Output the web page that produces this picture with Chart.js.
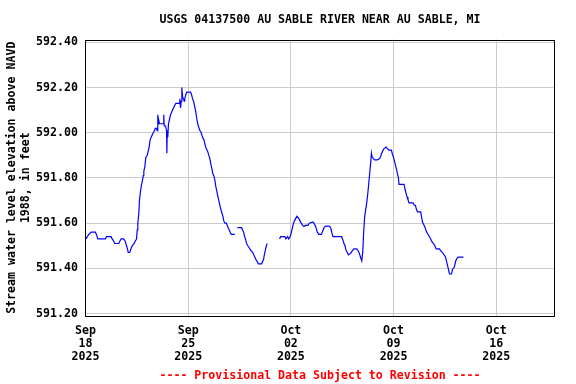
<!DOCTYPE html>
<html>
<head>
<meta charset="utf-8">
<script src="https://cdn.jsdelivr.net/npm/chart.js@4/dist/chart.umd.min.js"></script>
<style>
html,body{margin:0;padding:0;background:#fff;}
#wrap{width:576px;height:384px;position:relative;}
</style>
</head>
<body>
<div id="wrap"><canvas id="c"></canvas></div>
<script>
// Days since 2025-09-18 00:00
const dayOffsets = [
0.05,0.12,0.23,0.39,0.68,0.75,0.84,1.36,1.43,1.75,1.82,1.93,2.00,2.27,2.34,2.44,2.61,2.71,2.80,2.89,2.91,3.02,3.12,3.19,3.32,3.39,3.48,3.53,3.57,3.64,3.68,3.75,3.82,3.89,3.94,3.98,
4.05,4.11,4.21,4.28,4.35,4.41,4.48,4.55,4.62,4.71,4.75,4.84,4.89,4.93,4.96,5.00,5.05,5.30,5.34,5.37,5.46,5.53,5.55,5.57,5.61,5.66,5.73,5.80,5.87,5.93,6.00,6.07,6.16,6.41,6.43,6.48,6.53,6.57,6.62,6.68,6.73,6.77,6.84,6.91,
7.16,7.23,7.30,7.37,7.43,7.50,7.57,7.62,7.69,7.80,7.89,7.98,8.07,8.14,8.23,8.32,8.41,8.48,8.55,8.62,8.68,8.75,8.82,8.89,8.96,9.02,9.09,9.16,9.23,9.30,9.37,9.43,9.50,9.60,9.67,9.73,9.80,9.87,9.94,10.18,
10.25,
10.35,10.64,10.71,10.78,10.85,10.91,10.98,11.07,11.17,11.26,11.34,11.44,11.51,11.58,11.64,11.71,11.78,12.01,12.07,12.14,12.19,12.26,12.33,12.39,
12.80,
13.23,13.30,13.59,13.66,13.78,13.85,13.94,14.00,14.07,14.14,14.21,14.32,14.41,14.55,14.62,14.71,14.80,14.89,14.99,15.16,15.26,15.50,15.57,15.69,15.80,15.91,16.08,16.17,16.26,16.37,16.62,16.71,16.78,16.87,
17.46,17.55,17.62,17.69,17.76,17.85,17.92,18.08,18.19,18.30,18.49,18.58,18.67,18.74,18.83,18.90,18.96,19.03,19.10,19.17,19.24,19.30,19.37,19.44,19.49,19.53,19.62,19.71,19.90,
20.05,20.12,20.19,20.26,20.35,20.48,20.58,20.67,20.85,20.92,20.99,21.06,21.13,21.19,21.26,21.33,21.37,21.71,21.78,21.85,21.92,21.98,22.05,22.33,22.40,22.49,22.56,22.63,22.85,22.90,22.97,
23.04,23.12,23.19,23.26,23.35,23.44,23.53,23.62,23.72,23.81,23.90,24.13,24.20,24.33,24.44,24.54,24.60,24.67,24.74,24.81,24.95,25.01,25.15,25.22,25.31,25.40,25.76
];
// Stream water level elevation, feet (null = gap in record)
const waterLevels = [
591.53,591.54,591.55,591.56,591.56,591.55,591.53,591.53,591.54,591.54,591.53,591.52,591.51,591.51,591.52,591.53,591.53,591.52,591.50,591.48,591.47,591.47,591.49,591.50,591.51,591.52,591.53,591.57,591.60,591.645,591.70,591.74,591.77,591.79,591.81,591.83,
591.85,591.89,591.90,591.92,591.94,591.97,591.98,591.99,592.00,592.01,592.02,592.02,592.01,592.08,592.04,592.055,592.04,592.04,592.08,592.03,592.03,592.01,591.91,592.00,591.98,592.04,592.06,592.08,592.09,592.10,592.11,592.12,592.13,592.13,592.15,592.11,592.14,592.20,592.16,592.15,592.14,592.15,592.17,592.18,
592.18,592.17,592.15,592.14,592.12,592.10,592.07,592.05,592.03,592.01,592.00,591.98,591.97,591.95,591.93,591.92,591.90,591.886,591.86,591.84,591.82,591.81,591.79,591.76,591.74,591.72,591.70,591.68,591.66,591.645,591.63,591.61,591.60,591.60,591.59,591.58,591.57,591.56,591.55,591.55,
null,
591.58,591.58,591.57,591.56,591.54,591.53,591.51,591.50,591.49,591.48,591.475,591.466,591.455,591.445,591.436,591.43,591.42,591.42,591.43,591.44,591.46,591.48,591.50,591.51,
null,
591.53,591.54,591.54,591.53,591.54,591.53,591.54,591.55,591.57,591.59,591.605,591.62,591.63,591.62,591.61,591.60,591.59,591.585,591.59,591.59,591.60,591.605,591.60,591.585,591.56,591.55,591.55,591.565,591.58,591.587,591.587,591.58,591.56,591.54,
591.54,591.525,591.51,591.50,591.48,591.47,591.46,591.466,591.478,591.486,591.486,591.478,591.466,591.45,591.433,591.473,591.56,591.63,591.66,591.69,591.73,591.77,591.82,591.867,591.91,591.896,591.886,591.88,591.88,
591.886,591.896,591.91,591.92,591.93,591.937,591.93,591.923,591.923,591.905,591.893,591.875,591.856,591.84,591.82,591.80,591.772,591.772,591.75,591.733,591.716,591.705,591.69,591.69,591.68,591.678,591.66,591.65,591.65,591.63,591.605,
591.595,591.585,591.572,591.56,591.55,591.54,591.53,591.517,591.51,591.50,591.486,591.486,591.478,591.47,591.46,591.45,591.433,591.414,591.395,591.375,591.375,591.395,591.407,591.43,591.443,591.45,591.45
];
const xTickDays = [0, 7, 14, 21, 28];
const xTickLabels = [["Sep","18","2025"],["Sep","25","2025"],["Oct","02","2025"],["Oct","09","2025"],["Oct","16","2025"]];
const yTickValues = [591.20, 591.40, 591.60, 591.80, 592.00, 592.20, 592.40];
const titleText = "USGS 04137500 AU SABLE RIVER NEAR AU SABLE, MI";
const yAxisTitle = ["Stream water level elevation above NAVD", "1988, in feet"];
const footerText = "---- Provisional Data Subject to Revision ----";

const points = dayOffsets.map((d, i) => ({x: d, y: waterLevels[i]}));
const FONT = "'DejaVu Sans Mono', 'Liberation Mono', monospace";

const frame = {
  id: 'frame',
  afterDatasetsDraw(chart) {
    const a = chart.chartArea, ctx = chart.ctx;
    ctx.save();
    ctx.strokeStyle = '#000';
    ctx.lineWidth = 1;
    ctx.strokeRect(Math.round(a.left) + 0.5, Math.round(a.top) + 0.5, Math.round(a.right - a.left) - 1, Math.round(a.bottom - a.top) - 1);
    ctx.restore();
  }
};

new Chart(document.getElementById('c'), {
  type: 'line',
  data: {
    datasets: [{
      data: points,
      borderColor: '#0000ff',
      borderWidth: 1.2,
      pointRadius: 0,
      fill: false,
      spanGaps: false,
      tension: 0
    }]
  },
  options: {
    responsive: true,
    maintainAspectRatio: false,
    animation: false,
    layout: {padding: {left: 0, right: 21, top: 0, bottom: 0}},
    plugins: {
      legend: {display: false},
      tooltip: {enabled: false},
      title: {
        display: true, fullSize: false, text: titleText, color: '#000',
        font: {family: FONT, size: 11.6, weight: 'bold', lineHeight: '14px'},
        padding: {top: 13, bottom: 12.5}
      },
      subtitle: {
        display: true, fullSize: false, position: 'bottom', text: footerText, color: '#ff0000',
        font: {family: FONT, size: 11.6, weight: 'bold', lineHeight: '14px'},
        padding: {top: 5, bottom: 1}
      }
    },
    scales: {
      x: {
        type: 'linear', min: -0.03, max: 32.0,
        afterBuildTicks: s => { s.ticks = xTickDays.map(v => ({value: v})); },
        afterFit: s => { s.height = 48; },
        grid: {color: '#cccccc', lineWidth: 1, drawTicks: false},
        border: {display: false},
        ticks: {
          autoSkip: false, maxRotation: 0, minRotation: 0, padding: 8, color: '#000',
          font: {family: FONT, size: 11.6, weight: 'bold', lineHeight: '13px'},
          callback: (v, i) => xTickLabels[i]
        }
      },
      y: {
        type: 'linear', min: 591.189, max: 592.413,
        afterBuildTicks: s => { s.ticks = yTickValues.map(v => ({value: v})); },
        afterFit: s => { s.width = 85; },
        grid: {color: '#cccccc', lineWidth: 1, drawTicks: false},
        border: {display: false},
        ticks: {
          padding: 7, color: '#000',
          font: {family: FONT, size: 11.6, weight: 'bold'},
          callback: v => v.toFixed(2)
        },
        title: {
          display: true, text: yAxisTitle, color: '#000',
          font: {family: FONT, size: 11.6, weight: 'bold', lineHeight: '14px'},
          padding: {top: 5, bottom: 0}
        }
      }
    }
  },
  plugins: [frame]
});
</script>
</body>
</html>
